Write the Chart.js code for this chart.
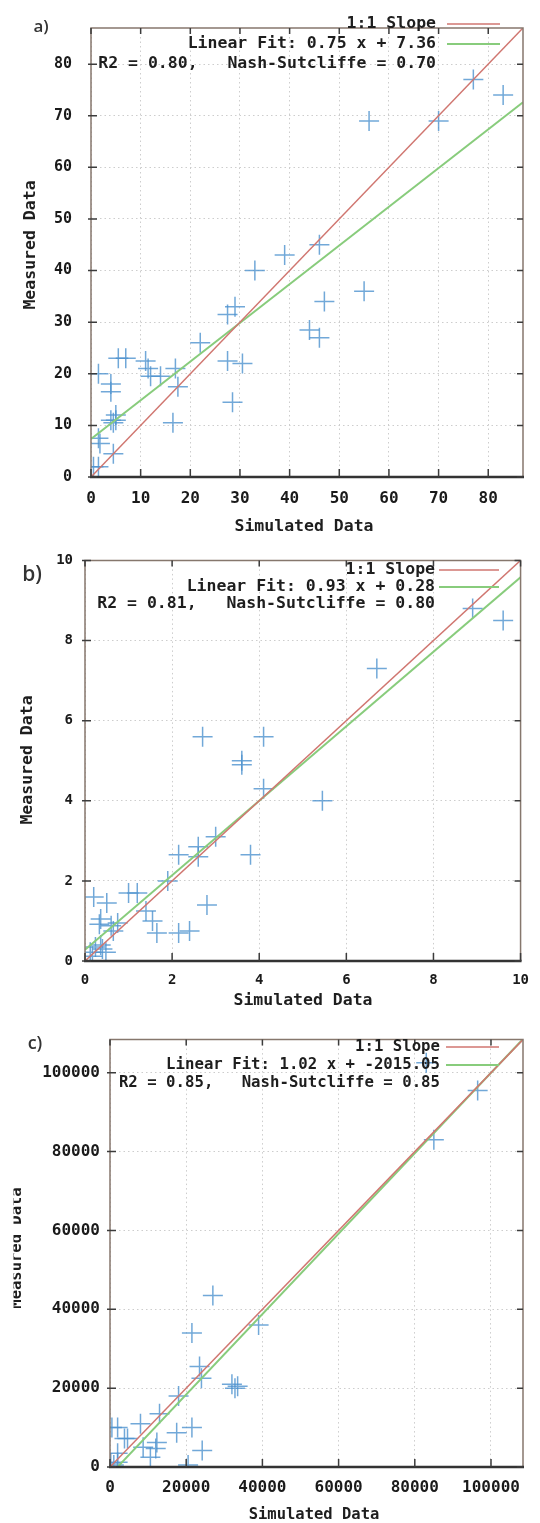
<!DOCTYPE html>
<html>
<head>
<meta charset="utf-8">
<script src="https://cdn.jsdelivr.net/npm/chart.js@4.4.1/dist/chart.umd.min.js"></script>
<style>
body { margin: 0; background: #fff; width: 540px; height: 1523px; position: relative; overflow: hidden; }
canvas { position: absolute; left: 0; }
</style>
</head>
<body>
<canvas id="chart-a" width="540" height="540" style="top:0px"></canvas>
<canvas id="chart-b" width="540" height="480" style="top:540px"></canvas>
<canvas id="chart-c" width="540" height="503" style="top:1020px"></canvas>
<script>
// a) values
const simA = [77, 83, 56, 70, 46, 39, 33, 55, 47, 29, 27.5, 44, 46, 22, 27.5, 30.5, 5.5, 7, 11, 11.5, 17, 1.5, 12, 14, 4, 4, 17.5, 28.5, 16.5, 4, 5, 4.5, 5, 1.8, 1.5, 4.5, 0.5, 1.5];
const measA = [77, 74, 69, 69, 45, 43, 40, 36, 34, 33, 31.5, 28.5, 27, 26, 22.5, 22, 23, 23, 22.5, 21, 21, 20, 19.5, 19.5, 18, 16.5, 17.5, 14.5, 10.5, 11, 11, 10.5, 12, 6.5, 7.5, 4.5, 2, 2];
const slopeA = [[0, 0], [87, 87]];
const fitA = [[0, 7.36], [87, 72.61]];
const ticksA = [0, 10, 20, 30, 40, 50, 60, 70, 80];
const legendA = ["1:1 Slope", "Linear Fit: 0.75 x + 7.36", "R2 = 0.80,   Nash-Sutcliffe = 0.70"];

// b)
const simB = [8.9, 9.6, 6.7, 2.7, 4.1, 3.6, 3.6, 4.1, 5.45, 3.0, 2.6, 2.15, 2.6, 3.8, 1.9, 0.2, 0.5, 1.0, 1.2, 2.8, 1.4, 1.55, 1.65, 2.15, 2.4, 0.36, 0.33, 0.6, 0.75, 0.65, 0.24, 0.12, 0.36, 0.48, 0.17, 0.4];
const measB = [8.8, 8.5, 7.3, 5.6, 5.6, 4.9, 5.0, 4.3, 4.0, 3.1, 2.85, 2.65, 2.6, 2.65, 2.0, 1.6, 1.45, 1.7, 1.7, 1.4, 1.25, 1.0, 0.7, 0.7, 0.75, 1.05, 0.92, 0.88, 0.95, 0.75, 0.35, 0.22, 0.4, 0.22, 0.12, 0.3];
const slopeB = [[0, 0], [10, 10]];
const fitB = [[0, 0.28], [10, 9.58]];
const ticksB = [0, 2, 4, 6, 8, 10];
const legendB = ["1:1 Slope", "Linear Fit: 0.93 x + 0.28", "R2 = 0.81,   Nash-Sutcliffe = 0.80"];

// c)
const simC = [83000, 96500, 85000, 27000, 39000, 21500, 23500, 24000, 32000, 33500, 32800, 18000, 13000, 8000, 500, 2000, 21500, 17500, 3800, 4600, 12300, 8700, 12000, 24200, 10600, 2000, 20500, 200, 1000, 2000, 0];
const measC = [102500, 95500, 83000, 43500, 36000, 34000, 25500, 22500, 21000, 20500, 20000, 18000, 13500, 11000, 10000, 10000, 10000, 8700, 7200, 7200, 6200, 5000, 4700, 4200, 2500, 3500, 500, 1000, 500, 1200, 0];
const slopeC = [[0, 0], [108400, 108400]];
const fitC = [[0, -2015.05], [108400, 108553]];
const ticksC = [0, 20000, 40000, 60000, 80000, 100000];
const legendC = ["1:1 Slope", "Linear Fit: 1.02 x + -2015.05", "R2 = 0.85,   Nash-Sutcliffe = 0.85"];

const RED = "rgb(208,118,112)";
const GREEN = "rgb(136,204,124)";
const BLUE = "rgba(78,146,206,0.8)";
const MONO = "'DejaVu Sans Mono'";

function pairs(list) {
  return list.map(p => ({ x: p[0], y: p[1] }));
}

function zipPoints(xs, ys) {
  return xs.map((v, i) => ({ x: v, y: ys[i] }));
}

// frame, inward ticks, key, titles and panel letter drawn gnuplot style
const gnuplotLook = {
  id: "gnuplotLook",
  afterDraw(chart, args, o) {
    const ctx = chart.ctx;
    const a = chart.chartArea;
    const xs = chart.scales.x;
    const ys = chart.scales.y;
    ctx.save();

    ctx.strokeStyle = "#86776d";
    ctx.lineWidth = 1.5;
    ctx.beginPath();
    ctx.moveTo(a.left, a.bottom);
    ctx.lineTo(a.left, a.top);
    ctx.lineTo(a.right, a.top);
    ctx.lineTo(a.right, a.bottom);
    ctx.stroke();
    ctx.strokeStyle = "#333";
    ctx.lineWidth = 2.5;
    ctx.beginPath();
    ctx.moveTo(a.left - 1, a.bottom);
    ctx.lineTo(a.right + 1, a.bottom);
    ctx.stroke();

    ctx.strokeStyle = "#3c3c3c";
    ctx.lineWidth = 1.5;
    ctx.beginPath();
    xs.ticks.forEach(t => {
      const px = xs.getPixelForValue(t.value);
      ctx.moveTo(px, a.bottom);
      ctx.lineTo(px, a.bottom - 8);
      ctx.moveTo(px, a.top);
      ctx.lineTo(px, a.top + 6);
    });
    ys.ticks.forEach(t => {
      const py = ys.getPixelForValue(t.value);
      ctx.moveTo(a.left - 3, py);
      ctx.lineTo(a.left + 6, py);
      ctx.moveTo(a.right, py);
      ctx.lineTo(a.right - 6, py);
    });
    ctx.stroke();

    // key
    ctx.fillStyle = "#1e1e1e";
    ctx.font = "bold " + o.keyFont + "px " + MONO;
    ctx.textAlign = "right";
    ctx.textBaseline = "middle";
    o.keyText.forEach((txt, i) => {
      ctx.fillText(txt, o.keyRight, o.keyRows[i]);
      if (i < 2) {
        ctx.strokeStyle = chart.data.datasets[i].borderColor;
        ctx.lineWidth = chart.data.datasets[i].borderWidth;
        ctx.beginPath();
        ctx.moveTo(o.keyLine[0], o.keyRows[i]);
        ctx.lineTo(o.keyLine[1], o.keyRows[i]);
        ctx.stroke();
      }
    });

    // axis titles
    ctx.fillStyle = "#1e1e1e";
    ctx.font = "bold " + o.titleFont + "px " + MONO;
    ctx.textAlign = "center";
    ctx.fillText("Simulated Data", o.xTitle[0], o.xTitle[1]);

    ctx.save();
    if (o.yClip) {
      ctx.beginPath();
      ctx.rect(o.yClip, 0, 80, chart.height);
      ctx.clip();
      ctx.textBaseline = "alphabetic";
    }
    ctx.translate(o.yTitle[0], o.yTitle[1]);
    ctx.rotate(-Math.PI / 2);
    ctx.fillText("Measured Data", 0, 0);
    ctx.restore();

    // panel letter
    ctx.fillStyle = "#333";
    ctx.font = "600 " + o.tagFont + "px 'Open Sans'";
    ctx.textAlign = "center";
    ctx.textBaseline = "middle";
    ctx.fillText(o.tag, o.tagPos[0], o.tagPos[1]);

    ctx.restore();
  }
};

function makeChart(id, p) {
  const axis = (ticks, size, pad, fit) => ({
    type: "linear",
    min: p.range[0],
    max: p.range[1],
    afterBuildTicks: s => { s.ticks = ticks.map(v => ({ value: v })); },
    afterFit: fit,
    ticks: {
      color: "#1a1a1a",
      font: { family: MONO, size: size, weight: "bold" },
      padding: pad,
      maxRotation: 0,
      autoSkip: false,
      callback: v => String(v)
    },
    grid: { color: "#cdcdcd", lineWidth: 1, drawTicks: false },
    border: { display: false, dash: [1.5, 3] }
  });

  return new Chart(document.getElementById(id).getContext("2d"), {
    type: "scatter",
    data: {
      datasets: [
        { label: "1:1 Slope", data: pairs(p.slope), showLine: true, borderColor: RED, borderWidth: 1.5, pointRadius: 0, order: 0 },
        { label: "Linear Fit", data: pairs(p.fit), showLine: true, borderColor: GREEN, borderWidth: 2, pointRadius: 0, order: 1 },
        { label: "Data", data: zipPoints(p.sim, p.meas), pointStyle: "cross", pointRadius: 10, borderColor: BLUE, borderWidth: 1.5, order: 2 }
      ]
    },
    options: {
      responsive: false,
      animation: false,
      layout: { padding: { top: p.padTop, right: p.padRight, left: 0, bottom: 0 } },
      plugins: {
        legend: { display: false },
        tooltip: { enabled: false },
        gnuplotLook: p.look
      },
      scales: {
        x: axis(p.ticks, p.xFont, p.xPad, s => { s.height = p.xAxisH; }),
        y: axis(p.ticks, p.yFont, p.yPad, s => { s.width = p.yAxisW; })
      }
    },
    plugins: [gnuplotLook]
  });
}

makeChart("chart-a", {
  sim: simA, meas: measA, slope: slopeA, fit: fitA, ticks: ticksA, range: [0, 87],
  padTop: 8, padRight: 17, yAxisW: 91, xAxisH: 63,
  xFont: 16, yFont: 15, xPad: 12, yPad: 19,
  look: {
    keyText: legendA, keyFont: 16.5, keyRight: 436, keyRows: [24, 44, 64], keyLine: [447, 500],
    titleFont: 16.5, xTitle: [304, 527], yTitle: [31, 245], yClip: 0,
    tag: "a)", tagFont: 17, tagPos: [41, 27]
  }
});

makeChart("chart-b", {
  sim: simB, meas: measB, slope: slopeB, fit: fitB, ticks: ticksB, range: [0, 10],
  padTop: 15, padRight: 19, yAxisW: 85, xAxisH: 59,
  xFont: 14, yFont: 14, xPad: 11, yPad: 12,
  look: {
    keyText: legendB, keyFont: 16.5, keyRight: 435, keyRows: [30, 47, 64], keyLine: [439, 499],
    titleFont: 16.5, xTitle: [303, 461], yTitle: [28, 220], yClip: 0,
    tag: "b)", tagFont: 21, tagPos: [32, 35]
  }
});

makeChart("chart-c", {
  sim: simC, meas: measC, slope: slopeC, fit: fitC, ticks: ticksC, range: [0, 108400],
  padTop: 12, padRight: 17, yAxisW: 110, xAxisH: 56,
  xFont: 16, yFont: 16, xPad: 11, yPad: 10,
  look: {
    keyText: legendC, keyFont: 15.7, keyRight: 440, keyRows: [27, 45, 63], keyLine: [446, 499],
    titleFont: 15.5, xTitle: [314, 495], yTitle: [21, 228], yClip: 13.5,
    tag: "c)", tagFont: 18, tagPos: [35, 24]
  }
});
</script>
</body>
</html>
